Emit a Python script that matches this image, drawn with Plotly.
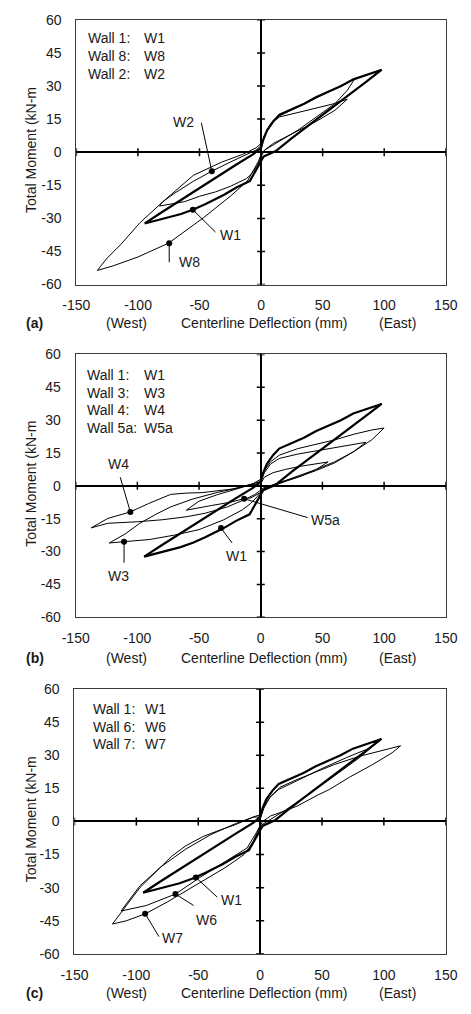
import plotly.graph_objects as go

# ---------------- data ----------------
X_TICKS = [-150, -100, -50, 0, 50, 100, 150]
Y_TICKS = [-60, -45, -30, -15, 0, 15, 30, 45, 60]

W1_x = [0, 2, 5, 10, 15, 25, 35, 45, 55, 65, 75, 85, 98, 85, 70, 55, 40, 25, 12, 6, 2, 0,
        -2, -5, -9, -20, -30, -45, -55, -65, -75, -85, -94.5, -80, -62, -40, -20, -6, -2, 0]
W1_y = [2, 6, 10, 14, 17, 19.5, 22, 25, 27.5, 30, 33, 35, 37.4, 31.8, 25.5, 19.2, 12.8, 6.4, 0.5, -0.8, -2, -4,
        -6, -9.5, -13, -16, -19.3, -23.5, -26, -28, -29.5, -31, -32.3, -27, -20.5, -12.7, -5.6, -0.8, 1, 2]

W2_x = [0, 3, 8, 15, 30, 45, 58, 70, 60, 45, 33, 20, 10, 3, 0,
        -3, -8, -12, -25, -37, -50, -62, -75, -82.5, -80, -70, -55, -40, -25, -12, -4, 0]
W2_y = [3, 8, 13, 16, 18, 20, 21.8, 24, 19, 14, 10.5, 7, 4, 1, -2,
        -6, -10, -12, -15.5, -18, -20, -22.4, -23.8, -24.4, -22.5, -18.5, -13.2, -8.6, -4.5, -1.2, 1, 3]

W8_x = [0, 3, 8, 15, 30, 45, 60, 70, 76, 70, 60, 45, 30, 18, 9, 3, 0,
        -2, -6, -11, -25, -47, -75, -100, -120, -133, -125, -113.7, -98.4, -78, -55, -32, -15, -4, 0]
W8_y = [2, 8, 13, 16.5, 20.5, 24.5, 28.5, 31.5, 33.2, 28, 22, 15.8, 10, 6, 3, 1, -1,
        -4, -8, -13, -20, -29.8, -41.2, -47.5, -51.5, -53.6, -48, -41.7, -32, -21.6, -10.5, -4.5, -1, 2, 4]

W3_x = [0, 3, 8, 15, 30, 45, 60, 75, 85.3, 75, 60, 45, 30, 18, 8, 2, 0,
        -3, -8, -15, -30, -50, -70, -90, -110.8, -122.8, -110, -98, -85, -73, -55, -35, -15, -3, 0]
W3_y = [2, 6, 10, 12.5, 14.5, 16, 17.5, 18.8, 19.9, 15.5, 11, 7.5, 4.5, 2, 0, -1.5, -3,
        -5, -8, -11, -15.5, -20, -22.5, -24.5, -25.5, -26.1, -22, -17.1, -13, -9.6, -6, -3, -0.5, 1.5, 2]

W4_x = [0, 3, 8, 15, 30, 45, 60, 75, 90, 100, 90, 75, 60, 45, 30, 18, 8, 2, 0,
        -5, -12, -27, -45, -60, -80, -100, -124, -137.5, -124, -105.7, -91, -73, -60, -47.5, -22, -6.6, 0]
W4_y = [3, 7, 11, 14, 17, 19, 21, 23.5, 25.5, 26.4, 21, 15.5, 10.5, 7, 4, 2, 0, -1, -2,
        -4, -6, -9.6, -12.5, -14.1, -15.5, -16.4, -17.1, -19.2, -14.9, -11.9, -8.1, -3.9, -3.3, -3.1, -1.4, 0.9, 3]

W5a_x = [0, 3, 10, 20, 33, 45, 54.6, 45, 33, 20, 10, 3, 0,
         -3, -8, -13.5, -25, -40, -50, -60.3, -50, -35, -20, -8, 0]
W5a_y = [1, 4, 6, 7.5, 9, 10, 10.9, 7.5, 4.5, 2, 0, -1.5, -3,
         -4, -5.5, -5.9, -7.5, -9, -10, -11.1, -7, -4, -1.5, 0.5, 1]

W6_x = [0, 3, 8, 15, 30, 50, 70, 90, 80, 60, 40, 20, 8, 0,
        -3, -10.5, -23.3, -48.7, -68.4, -92, -112.4, -105, -97, -80, -60, -40, -20, -5, 0]
W6_y = [2, 7, 11, 14.5, 18.5, 24, 29, 33.6, 28.8, 20.5, 12.5, 5, 1, -2,
        -5, -12, -16.5, -25.4, -32.9, -38.1, -40.6, -35, -29.1, -20.5, -12.5, -6, -1, 2, 2]

W7_x = [0, 3, 8, 16, 29, 45, 60, 80, 95, 106.6, 113.5, 106.6, 90, 72, 56, 46.7, 30, 21, 8.5, 2, 0,
        -5.5, -13, -28.4, -53.8, -75, -92.5, -108, -119.3, -114.8, -107, -97, -84, -71.5, -60, -46, -33, -20.6, -5.3, 0]
W7_y = [1, 6, 11, 15.5, 18.8, 22.5, 25.8, 29.5, 31.8, 33.3, 34.3, 31.1, 25.5, 20, 14.5, 12, 7, 5, 2.5, 0, -2,
        -9.1, -15, -21, -29.5, -36.5, -41.8, -45, -46.5, -43.3, -37.3, -29.9, -22.5, -15.8, -11, -6.8, -4, -1.6, 2.1, 3]

LEG_A = [("Wall 1:", "W1"), ("Wall 8:", "W8"), ("Wall 2:", "W2")]
LEG_B = [("Wall 1:", "W1"), ("Wall 3:", "W3"), ("Wall 4:", "W4"), ("Wall 5a:", "W5a")]
LEG_C = [("Wall 1:", "W1"), ("Wall 6:", "W6"), ("Wall 7:", "W7")]

# label, dot x, dot y, leader end x, leader end y, text x, text y
CALL_A = [("W2", -40, -8.6, -48.5, 13.3, -63.3, 13.6),
          ("W1", -55.4, -26.1, -37, -36.2, -24.7, -37.7),
          ("W8", -74.6, -41.3, -74.6, -49.9, -58.2, -49.6)]
CALL_B = [("W4", -105.7, -11.9, -113.9, 3.9, -114.9, 10.2),
          ("W5a", -13.5, -5.9, 38, -14.5, 52.3, -15.6),
          ("W1", -32.2, -19.3, -23.2, -26.1, -19.9, -32.1),
          ("W3", -110.8, -25.5, -110.8, -35.1, -114.9, -41.1)]
CALL_C = [("W1", -51.9, -25.4, -34.6, -34.3, -23.4, -35.8),
          ("W6", -68.4, -32.9, -53.7, -38.1, -43.5, -44.8),
          ("W7", -92.9, -41.8, -81.7, -52.2, -71, -52.9)]

# ---------------- layout geometry ----------------
W, H = 471, 1014
FONT = "Liberation Sans, Arial, sans-serif"
TXT = "#1a1a1a"
FS = 14

panels = [
    dict(tag="(a)", left=66, right=457, top=12, bottom=281, row=320,
         curves=[(W8_x, W8_y, 1.0), (W2_x, W2_y, 1.0), (W1_x, W1_y, 2.2)],
         legend=LEG_A, legx=(-141.6, -95.5), legy=[51.7, 43.6, 35.6], calls=CALL_A),
    dict(tag="(b)", left=65.3, right=457, top=352, bottom=619, row=660,
         curves=[(W3_x, W3_y, 1.0), (W4_x, W4_y, 1.0), (W5a_x, W5a_y, 1.0), (W1_x, W1_y, 2.2)],
         legend=LEG_B, legx=(-141.6, -95.5), legy=[50.7, 42.6, 34.5, 26.4], calls=CALL_B),
    dict(tag="(c)", left=64, right=457, top=692, bottom=961, row=1001,
         curves=[(W6_x, W6_y, 1.0), (W7_x, W7_y, 1.0), (W1_x, W1_y, 2.2)],
         legend=LEG_C, legx=(-135.5, -93.5), legy=[51.1, 42.6, 35.2], calls=CALL_C),
]

fig = go.Figure()
shapes = []
annotations = []
layout = {}

for i, p in enumerate(panels):
    n = "" if i == 0 else str(i + 1)
    xa, ya = "x" + n, "y" + n
    layout["xaxis" + n] = dict(
        domain=[p["left"] / W, p["right"] / W], anchor=ya, range=[-150, 150],
        tickvals=X_TICKS, ticktext=[str(v) for v in X_TICKS], ticks="",
        ticklabelstandoff=8, showgrid=False, zeroline=True, zerolinecolor="black",
        zerolinewidth=1.5, showline=True, mirror=True, linecolor="#3c3c3c", linewidth=1,
        tickfont=dict(family=FONT, size=FS, color=TXT), fixedrange=True)
    layout["yaxis" + n] = dict(
        domain=[1 - p["bottom"] / H, 1 - p["top"] / H], anchor=xa, range=[-60, 60],
        tickvals=Y_TICKS, ticktext=[str(v) for v in Y_TICKS], ticks="",
        ticklabelstandoff=11, showgrid=False, zeroline=True, zerolinecolor="black",
        zerolinewidth=1.5, showline=True, mirror=True, linecolor="#3c3c3c", linewidth=1,
        tickfont=dict(family=FONT, size=FS, color=TXT), fixedrange=True)

    for cx, cy, lw in p["curves"]:
        fig.add_trace(go.Scatter(x=cx, y=cy, mode="lines", xaxis=xa, yaxis=ya,
                                 line=dict(color="black", width=lw), hoverinfo="skip"))

    # tick marks crossing the zero lines
    for v in X_TICKS:
        if v == 0:
            continue
        shapes.append(dict(type="line", xref=xa, yref=ya, x0=v, x1=v, ysizemode="pixel",
                           yanchor=0, y0=-4, y1=4, line=dict(color="black", width=1.5)))
    for v in Y_TICKS:
        if v == 0:
            continue
        shapes.append(dict(type="line", xref=xa, yref=ya, y0=v, y1=v, xsizemode="pixel",
                           xanchor=0, x0=-4, x1=4, line=dict(color="black", width=1.5)))

    # callouts
    dx, dy = [], []
    for lab, px_, py_, ex, ey, tx, ty in p["calls"]:
        shapes.append(dict(type="line", xref=xa, yref=ya, x0=px_, y0=py_, x1=ex, y1=ey,
                           line=dict(color="black", width=1)))
        annotations.append(dict(xref=xa, yref=ya, x=tx, y=ty, text=lab, showarrow=False,
                                xanchor="center", yanchor="middle",
                                font=dict(family=FONT, size=FS, color=TXT)))
        dx.append(px_)
        dy.append(py_)
    fig.add_trace(go.Scatter(x=dx, y=dy, mode="markers", xaxis=xa, yaxis=ya,
                             marker=dict(color="black", size=6), hoverinfo="skip"))

    # legend text block
    for (a, b), yy in zip(p["legend"], p["legy"]):
        annotations.append(dict(xref=xa, yref=ya, x=p["legx"][0], y=yy, text=a, showarrow=False,
                                xanchor="left", yanchor="middle", borderpad=0,
                                font=dict(family=FONT, size=FS, color=TXT)))
        annotations.append(dict(xref=xa, yref=ya, x=p["legx"][1], y=yy, text=b, showarrow=False,
                                xanchor="left", yanchor="middle", borderpad=0,
                                font=dict(family=FONT, size=FS, color=TXT)))

    # y-axis title
    annotations.append(dict(xref="paper", yref=ya, x=18 / W, y=1, text="Total Moment (kN-m",
                            textangle=-90, showarrow=False, xanchor="center", yanchor="middle",
                            font=dict(family=FONT, size=FS, color=TXT)))
    # bottom row texts
    ry = 1 - p["row"] / H
    for txt, xc, bold in [(p["tag"], 22, True), ("(West)", 119, False),
                          ("Centerline Deflection (mm)", 265, False), ("(East)", 406, False)]:
        annotations.append(dict(xref="paper", yref="paper", x=xc / W, y=ry,
                                text=("<b>%s</b>" % txt) if bold else txt, showarrow=False,
                                xanchor="center", yanchor="middle",
                                font=dict(family=FONT, size=FS, color=TXT)))

fig.update_layout(width=W, height=H, margin=dict(l=0, r=0, t=0, b=0),
                  paper_bgcolor="white", plot_bgcolor="white", showlegend=False,
                  shapes=shapes, annotations=annotations, **layout)

fig.write_html("out.html", config={"displayModeBar": False})
